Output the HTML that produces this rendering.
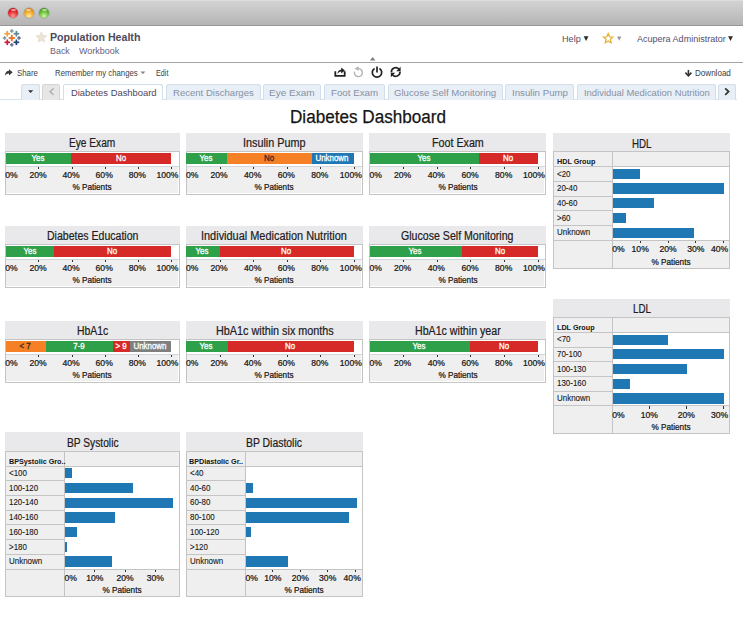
<!DOCTYPE html><html><head><meta charset="utf-8"><style>html,body{margin:0;padding:0;}body{width:743px;height:621px;overflow:hidden;position:relative;background:#fff;font-family:"Liberation Sans", sans-serif;}</style></head><body><div style="position:absolute;left:0.00px;top:0.00px;width:743.00px;height:25.00px;background:linear-gradient(#e4e4e4 0,#d2d2d2 1.5px,#c6c6c6 45%,#b4b4b4 100%);"></div><div style="position:absolute;left:0.00px;top:25.00px;width:743.00px;height:1.40px;background:#989898;"></div><div style="position:absolute;left:8.10px;top:7.8px;width:10.4px;height:10.4px;border-radius:50%;background:radial-gradient(circle at 50% 80%,#ff9a90 0,#e0262a 55%,#a01018 100%);box-shadow:0 0 0 0.7px rgba(110,110,110,0.35);"></div><div style="position:absolute;left:10.70px;top:8.7px;width:5.2px;height:2.8px;border-radius:50%;background:rgba(255,255,255,0.55);"></div><div style="position:absolute;left:23.50px;top:7.8px;width:10.4px;height:10.4px;border-radius:50%;background:radial-gradient(circle at 50% 80%,#ffe9a0 0,#f0a020 55%,#b06a10 100%);box-shadow:0 0 0 0.7px rgba(110,110,110,0.35);"></div><div style="position:absolute;left:26.10px;top:8.7px;width:5.2px;height:2.8px;border-radius:50%;background:rgba(255,255,255,0.55);"></div><div style="position:absolute;left:39.00px;top:7.8px;width:10.4px;height:10.4px;border-radius:50%;background:radial-gradient(circle at 50% 80%,#d0f8a0 0,#60b830 55%,#2a7a12 100%);box-shadow:0 0 0 0.7px rgba(110,110,110,0.35);"></div><div style="position:absolute;left:41.60px;top:8.7px;width:5.2px;height:2.8px;border-radius:50%;background:rgba(255,255,255,0.55);"></div><svg style="position:absolute;left:0;top:27px" width="26" height="24" viewBox="0 27 26 24"><rect x="8.70" y="37.05" width="6.2" height="1.9" fill="#e8762b"/><rect x="10.85" y="34.90" width="1.9" height="6.2" fill="#e8762b"/><rect x="4.50" y="32.85" width="5.6" height="1.7" fill="#eea23c"/><rect x="6.45" y="30.90" width="1.7" height="5.6" fill="#eea23c"/><rect x="13.60" y="32.85" width="5.6" height="1.7" fill="#5b879a"/><rect x="15.55" y="30.90" width="1.7" height="5.6" fill="#5b879a"/><rect x="4.50" y="41.45" width="5.6" height="1.7" fill="#c72035"/><rect x="6.45" y="39.50" width="1.7" height="5.6" fill="#c72035"/><rect x="13.60" y="41.45" width="5.6" height="1.7" fill="#1f447a"/><rect x="15.55" y="39.50" width="1.7" height="5.6" fill="#1f447a"/><rect x="10.00" y="30.30" width="3.6" height="1.4" fill="#7199a6"/><rect x="11.10" y="29.20" width="1.4" height="3.6" fill="#7199a6"/><rect x="2.80" y="37.30" width="3.6" height="1.4" fill="#7199a6"/><rect x="3.90" y="36.20" width="1.4" height="3.6" fill="#7199a6"/><rect x="17.20" y="37.30" width="3.6" height="1.4" fill="#5c6692"/><rect x="18.30" y="36.20" width="1.4" height="3.6" fill="#5c6692"/><rect x="10.00" y="44.10" width="3.6" height="1.4" fill="#6a6aa0"/><rect x="11.10" y="43.00" width="1.4" height="3.6" fill="#6a6aa0"/></svg><svg style="position:absolute;left:0;top:0" width="743" height="60"><path d="M41.35,32.00 L42.88,35.50 L46.68,35.87 L43.82,38.40 L44.64,42.13 L41.35,40.20 L38.06,42.13 L38.88,38.40 L36.02,35.87 L39.82,35.50Z" fill="#ebe5d5" stroke="#ddd5c2" stroke-width="0.6"/><path d="M608.20,33.60 L609.55,36.74 L612.96,37.05 L610.39,39.31 L611.14,42.65 L608.20,40.90 L605.26,42.65 L606.01,39.31 L603.44,37.05 L606.85,36.74Z" fill="none" stroke="#e2ae2c" stroke-width="1.2"/></svg><div style="position:absolute;left:49.90px;top:31.53px;font-size:10.8px;line-height:10.8px;color:#4d4a5c;font-weight:bold;white-space:nowrap;transform:scaleX(0.985);transform-origin:0 0;">Population Health</div><div style="position:absolute;left:49.70px;top:45.74px;font-size:9.6px;line-height:9.6px;color:#675f7e;font-weight:normal;white-space:nowrap;transform:scaleX(0.930);transform-origin:0 0;">Back</div><div style="position:absolute;left:78.50px;top:45.74px;font-size:9.6px;line-height:9.6px;color:#675f7e;font-weight:normal;white-space:nowrap;transform:scaleX(0.937);transform-origin:0 0;">Workbook</div><div style="position:absolute;left:561.70px;top:33.54px;font-size:9.6px;line-height:9.6px;color:#564f6c;font-weight:normal;white-space:nowrap;transform:scaleX(0.956);transform-origin:0 0;">Help</div><svg style="position:absolute;left:0;top:0;overflow:visible" width="1" height="1"><path d="M583.70 36.30 H588.50 L586.10 40.90Z" fill="#2a2a2a"/></svg><svg style="position:absolute;left:0;top:0;overflow:visible" width="1" height="1"><path d="M617.00 36.50 H621.40 L619.20 40.70Z" fill="#9a9a9a"/></svg><div style="position:absolute;left:636.50px;top:33.54px;font-size:9.6px;line-height:9.6px;color:#564f6c;font-weight:normal;white-space:nowrap;transform:scaleX(0.940);transform-origin:0 0;">Acupera Administrator</div><svg style="position:absolute;left:0;top:0;overflow:visible" width="1" height="1"><path d="M728.10 36.30 H732.90 L730.50 40.90Z" fill="#2a2a2a"/></svg><div style="position:absolute;left:0.00px;top:61.60px;width:743.00px;height:1.40px;background:#a4a4a4;"></div><svg style="position:absolute;left:0;top:0;overflow:visible" width="1" height="1"><path d="M369.9 60.5 L372.65 57.1 L375.4 60.5Z" fill="#7e7e7e"/></svg><svg style="position:absolute;left:0;top:0;overflow:visible" width="1" height="1"><path d="M4.8 76 C5 72.4 6.8 70.9 9 70.8 V69.2 L12.7 72.3 L9 75.4 V73.6 C7.4 73.6 5.9 74.4 4.8 76Z" fill="#3a3a3a"/></svg><div style="position:absolute;left:16.50px;top:68.78px;font-size:8.6px;line-height:8.6px;color:#3e3e3e;font-weight:normal;white-space:nowrap;transform:scaleX(0.915);transform-origin:0 0;">Share</div><div style="position:absolute;left:55.20px;top:68.78px;font-size:8.6px;line-height:8.6px;color:#3e3e3e;font-weight:normal;white-space:nowrap;transform:scaleX(0.907);transform-origin:0 0;">Remember my changes</div><svg style="position:absolute;left:0;top:0;overflow:visible" width="1" height="1"><path d="M140.50 71.40 H145.30 L142.90 74.20Z" fill="#888"/></svg><div style="position:absolute;left:156.30px;top:68.78px;font-size:8.6px;line-height:8.6px;color:#3e3e3e;font-weight:normal;white-space:nowrap;transform:scaleX(0.840);transform-origin:0 0;">Edit</div><div style="position:absolute;left:695.00px;top:68.78px;font-size:8.6px;line-height:8.6px;color:#3e3e3e;font-weight:normal;white-space:nowrap;transform:scaleX(0.938);transform-origin:0 0;">Download</div><svg style="position:absolute;left:0;top:0;overflow:visible" width="1" height="1"><path d="M688.4 70 V75" stroke="#333" stroke-width="1.6"/><path d="M685.4 72.6 L688.4 75.9 L691.4 72.6" fill="none" stroke="#333" stroke-width="1.6"/></svg><svg style="position:absolute;left:0;top:0;overflow:visible" width="1" height="1"><path d="M335.3 71.2 V75.9 H344.7 V71.2" fill="none" stroke="#222" stroke-width="1.8"/><path d="M337.4 74.2 C337.6 71.2 339.2 69.9 341.2 69.8 V67.4 L344.9 70.5 L341.2 73.6 V71.5 C339.6 71.5 338.4 72.4 337.4 74.2Z" fill="#222"/><path d="M358.05 68.62 A4.0 4.0 0 1 1 354.54 71.56" fill="none" stroke="#b4b4b4" stroke-width="1.4"/><path d="M354.6 68.6 L358.6 66.2 L358.6 71Z" fill="#b4b4b4"/><path d="M379.49 68.41 A4.7 4.7 0 1 1 374.51 68.41" fill="none" stroke="#222" stroke-width="1.7"/><path d="M377 66.6 V72.4" stroke="#222" stroke-width="1.7"/><path d="M391.42 72.37 A4.3 4.3 0 0 1 398.99 69.24" fill="none" stroke="#222" stroke-width="1.7"/><path d="M399.98 71.63 A4.3 4.3 0 0 1 392.41 74.76" fill="none" stroke="#222" stroke-width="1.7"/><path d="M400.6 66.8 V71.2 H396.2Z" fill="#222"/><path d="M390.8 77.2 V72.8 H395.2Z" fill="#222"/></svg><div style="position:absolute;left:0.00px;top:98.50px;width:736.50px;height:1.10px;background:#d6e2ee;"></div><div style="position:absolute;left:21.40px;top:84px;width:16.80px;height:14.6px;background:#e9eff7;border:1px solid #d2deea;border-bottom:none;border-radius:2.5px 2.5px 0 0;"></div><svg style="position:absolute;left:0;top:0;overflow:visible" width="1" height="1"><path d="M28.05 90.20 H33.25 L30.65 93.00Z" fill="#333"/></svg><div style="position:absolute;left:42.30px;top:84px;width:16.10px;height:14.6px;background:#e6e6e6;border:1px solid #d4d4d4;border-bottom:none;border-radius:2.5px 2.5px 0 0;"></div><svg style="position:absolute;left:0;top:0;overflow:visible" width="1" height="1"><path d="M53.6 88.6 L50 91.7 L53.6 94.8" fill="none" stroke="#a8a8a8" stroke-width="1.3"/></svg><div style="position:absolute;left:63.30px;top:84px;width:97.50px;height:14.6px;background:#ffffff;border:1px solid #d2deea;border-bottom:none;border-radius:2.5px 2.5px 0 0;"></div><div style="position:absolute;left:70.50px;top:87.64px;font-size:9.6px;line-height:9.6px;color:#4e4760;font-weight:normal;white-space:nowrap;transform:scaleX(0.978);transform-origin:0 0;">Diabetes Dashboard</div><div style="position:absolute;left:165.50px;top:84px;width:93.00px;height:14.6px;background:#e9eff7;border:1px solid #d2deea;border-bottom:none;border-radius:2.5px 2.5px 0 0;"></div><div style="position:absolute;left:172.50px;top:87.64px;font-size:9.6px;line-height:9.6px;color:#8791a3;font-weight:normal;white-space:nowrap;transform:scaleX(0.996);transform-origin:0 0;">Recent Discharges</div><div style="position:absolute;left:263.20px;top:84px;width:55.90px;height:14.6px;background:#e9eff7;border:1px solid #d2deea;border-bottom:none;border-radius:2.5px 2.5px 0 0;"></div><div style="position:absolute;left:269.40px;top:87.64px;font-size:9.6px;line-height:9.6px;color:#8791a3;font-weight:normal;white-space:nowrap;transform:scaleX(1.046);transform-origin:0 0;">Eye Exam</div><div style="position:absolute;left:323.80px;top:84px;width:59.70px;height:14.6px;background:#e9eff7;border:1px solid #d2deea;border-bottom:none;border-radius:2.5px 2.5px 0 0;"></div><div style="position:absolute;left:331.00px;top:87.64px;font-size:9.6px;line-height:9.6px;color:#8791a3;font-weight:normal;white-space:nowrap;transform:scaleX(1.016);transform-origin:0 0;">Foot Exam</div><div style="position:absolute;left:387.50px;top:84px;width:113.00px;height:14.6px;background:#e9eff7;border:1px solid #d2deea;border-bottom:none;border-radius:2.5px 2.5px 0 0;"></div><div style="position:absolute;left:394.00px;top:87.64px;font-size:9.6px;line-height:9.6px;color:#8791a3;font-weight:normal;white-space:nowrap;transform:scaleX(1.003);transform-origin:0 0;">Glucose Self Monitoring</div><div style="position:absolute;left:505.20px;top:84px;width:67.10px;height:14.6px;background:#e9eff7;border:1px solid #d2deea;border-bottom:none;border-radius:2.5px 2.5px 0 0;"></div><div style="position:absolute;left:511.90px;top:87.64px;font-size:9.6px;line-height:9.6px;color:#8791a3;font-weight:normal;white-space:nowrap;transform:scaleX(1.009);transform-origin:0 0;">Insulin Pump</div><div style="position:absolute;left:576.50px;top:84px;width:137.20px;height:14.6px;background:#e9eff7;border:1px solid #d2deea;border-bottom:none;border-radius:2.5px 2.5px 0 0;"></div><div style="position:absolute;left:583.90px;top:87.64px;font-size:9.6px;line-height:9.6px;color:#8791a3;font-weight:normal;white-space:nowrap;transform:scaleX(0.983);transform-origin:0 0;">Individual Medication Nutrition</div><div style="position:absolute;left:717.60px;top:84px;width:16.50px;height:14.6px;background:#e9eff7;border:1px solid #d2deea;border-bottom:none;border-radius:2.5px 2.5px 0 0;"></div><svg style="position:absolute;left:0;top:0;overflow:visible" width="1" height="1"><path d="M725.2 88.4 L728.6 91.6 L725.2 94.8" fill="none" stroke="#333" stroke-width="1.7"/></svg><div style="position:absolute;left:289.70px;top:106.87px;font-size:19.2px;line-height:19.2px;color:#141414;font-weight:normal;white-space:nowrap;transform:scaleX(0.892);transform-origin:0 0;-webkit-text-stroke:0.25px #141414;">Diabetes Dashboard</div><div style="position:absolute;left:5.00px;top:132.60px;width:174.60px;height:18.70px;background:#e9e9eb;"></div><div style="position:absolute;left:69.15px;top:137.42px;font-size:12px;line-height:12px;color:#241c1c;font-weight:normal;white-space:nowrap;transform:scaleX(0.846);transform-origin:0 0;-webkit-text-stroke:0.22px #241c1c;">Eye Exam</div><div style="position:absolute;left:5.00px;top:151.30px;width:172.60px;height:41.60px;background:#efefef;border:1px solid #c4c4c4;overflow:hidden;box-shadow:inset -1px -1px 0 #fff;"><div style="position:absolute;left:0;top:0;right:0;height:14px;background:#fff;border-bottom:1px solid #cfd6dc;"></div></div><div style="position:absolute;left:5.80px;top:153.20px;width:65.54px;height:10.90px;background:#2ea04a;"></div><div style="position:absolute;left:-262.03px;width:600px;text-align:center;top:154.18px;font-size:8.6px;line-height:8.6px;color:#fff;font-weight:normal;white-space:nowrap;transform:scaleX(0.920);transform-origin:50% 0;-webkit-text-stroke:0.3px #fff;">Yes</div><div style="position:absolute;left:71.34px;top:153.20px;width:99.96px;height:10.90px;background:#d62a28;"></div><div style="position:absolute;left:-179.28px;width:600px;text-align:center;top:154.18px;font-size:8.6px;line-height:8.6px;color:#fff;font-weight:normal;white-space:nowrap;transform:scaleX(0.920);transform-origin:50% 0;-webkit-text-stroke:0.3px #fff;">No</div><div style="position:absolute;left:5.30px;top:171.18px;font-size:8.6px;line-height:8.6px;color:#141414;font-weight:normal;white-space:nowrap;-webkit-text-stroke:0.22px #141414;">0%</div><div style="position:absolute;left:38.40px;top:167.10px;width:1.00px;height:2.40px;background:#333;"></div><div style="position:absolute;left:-262.00px;width:600px;text-align:center;top:171.18px;font-size:8.6px;line-height:8.6px;color:#141414;font-weight:normal;white-space:nowrap;-webkit-text-stroke:0.22px #141414;">20%</div><div style="position:absolute;left:71.50px;top:167.10px;width:1.00px;height:2.40px;background:#333;"></div><div style="position:absolute;left:-228.90px;width:600px;text-align:center;top:171.18px;font-size:8.6px;line-height:8.6px;color:#141414;font-weight:normal;white-space:nowrap;-webkit-text-stroke:0.22px #141414;">40%</div><div style="position:absolute;left:104.60px;top:167.10px;width:1.00px;height:2.40px;background:#333;"></div><div style="position:absolute;left:-195.80px;width:600px;text-align:center;top:171.18px;font-size:8.6px;line-height:8.6px;color:#141414;font-weight:normal;white-space:nowrap;-webkit-text-stroke:0.22px #141414;">60%</div><div style="position:absolute;left:137.70px;top:167.10px;width:1.00px;height:2.40px;background:#333;"></div><div style="position:absolute;left:-162.70px;width:600px;text-align:center;top:171.18px;font-size:8.6px;line-height:8.6px;color:#141414;font-weight:normal;white-space:nowrap;-webkit-text-stroke:0.22px #141414;">80%</div><div style="position:absolute;left:170.80px;top:167.10px;width:1.00px;height:2.40px;background:#333;"></div><div style="position:absolute;right:564.60px;text-align:right;top:171.18px;font-size:8.6px;line-height:8.6px;color:#141414;font-weight:normal;white-space:nowrap;-webkit-text-stroke:0.22px #141414;">100%</div><div style="position:absolute;left:-207.70px;width:600px;text-align:center;top:182.98px;font-size:8.6px;line-height:8.6px;color:#141414;font-weight:normal;white-space:nowrap;transform:scaleX(0.950);transform-origin:50% 0;-webkit-text-stroke:0.22px #141414;">% Patients</div><div style="position:absolute;left:185.70px;top:132.60px;width:177.30px;height:18.70px;background:#e9e9eb;"></div><div style="position:absolute;left:243.15px;top:137.42px;font-size:12px;line-height:12px;color:#241c1c;font-weight:normal;white-space:nowrap;transform:scaleX(0.900);transform-origin:0 0;-webkit-text-stroke:0.22px #241c1c;">Insulin Pump</div><div style="position:absolute;left:185.70px;top:151.30px;width:175.30px;height:41.60px;background:#efefef;border:1px solid #c4c4c4;overflow:hidden;box-shadow:inset -1px -1px 0 #fff;"><div style="position:absolute;left:0;top:0;right:0;height:14px;background:#fff;border-bottom:1px solid #cfd6dc;"></div></div><div style="position:absolute;left:186.40px;top:153.20px;width:40.82px;height:10.90px;background:#2ea04a;"></div><div style="position:absolute;left:-93.79px;width:600px;text-align:center;top:154.18px;font-size:8.6px;line-height:8.6px;color:#fff;font-weight:normal;white-space:nowrap;transform:scaleX(0.920);transform-origin:50% 0;-webkit-text-stroke:0.3px #fff;">Yes</div><div style="position:absolute;left:227.22px;top:153.20px;width:84.50px;height:10.90px;background:#f58025;"></div><div style="position:absolute;left:-31.12px;width:600px;text-align:center;top:154.18px;font-size:8.6px;line-height:8.6px;color:#3a2a20;font-weight:normal;white-space:nowrap;transform:scaleX(0.920);transform-origin:50% 0;-webkit-text-stroke:0.3px #3a2a20;">No</div><div style="position:absolute;left:311.73px;top:153.20px;width:42.67px;height:10.90px;background:#1f77b4;"></div><div style="position:absolute;left:32.46px;width:600px;text-align:center;top:154.18px;font-size:8.6px;line-height:8.6px;color:#fff;font-weight:normal;white-space:nowrap;transform:scaleX(0.920);transform-origin:50% 0;-webkit-text-stroke:0.3px #fff;">Unknown</div><div style="position:absolute;left:186.00px;top:171.18px;font-size:8.6px;line-height:8.6px;color:#141414;font-weight:normal;white-space:nowrap;-webkit-text-stroke:0.22px #141414;">0%</div><div style="position:absolute;left:219.50px;top:167.10px;width:1.00px;height:2.40px;background:#333;"></div><div style="position:absolute;left:-80.90px;width:600px;text-align:center;top:171.18px;font-size:8.6px;line-height:8.6px;color:#141414;font-weight:normal;white-space:nowrap;-webkit-text-stroke:0.22px #141414;">20%</div><div style="position:absolute;left:253.10px;top:167.10px;width:1.00px;height:2.40px;background:#333;"></div><div style="position:absolute;left:-47.30px;width:600px;text-align:center;top:171.18px;font-size:8.6px;line-height:8.6px;color:#141414;font-weight:normal;white-space:nowrap;-webkit-text-stroke:0.22px #141414;">40%</div><div style="position:absolute;left:286.70px;top:167.10px;width:1.00px;height:2.40px;background:#333;"></div><div style="position:absolute;left:-13.70px;width:600px;text-align:center;top:171.18px;font-size:8.6px;line-height:8.6px;color:#141414;font-weight:normal;white-space:nowrap;-webkit-text-stroke:0.22px #141414;">60%</div><div style="position:absolute;left:320.30px;top:167.10px;width:1.00px;height:2.40px;background:#333;"></div><div style="position:absolute;left:19.90px;width:600px;text-align:center;top:171.18px;font-size:8.6px;line-height:8.6px;color:#141414;font-weight:normal;white-space:nowrap;-webkit-text-stroke:0.22px #141414;">80%</div><div style="position:absolute;left:353.90px;top:167.10px;width:1.00px;height:2.40px;background:#333;"></div><div style="position:absolute;right:381.20px;text-align:right;top:171.18px;font-size:8.6px;line-height:8.6px;color:#141414;font-weight:normal;white-space:nowrap;-webkit-text-stroke:0.22px #141414;">100%</div><div style="position:absolute;left:-25.65px;width:600px;text-align:center;top:182.98px;font-size:8.6px;line-height:8.6px;color:#141414;font-weight:normal;white-space:nowrap;transform:scaleX(0.950);transform-origin:50% 0;-webkit-text-stroke:0.22px #141414;">% Patients</div><div style="position:absolute;left:369.20px;top:132.60px;width:177.00px;height:18.70px;background:#e9e9eb;"></div><div style="position:absolute;left:431.85px;top:137.42px;font-size:12px;line-height:12px;color:#241c1c;font-weight:normal;white-space:nowrap;transform:scaleX(0.892);transform-origin:0 0;-webkit-text-stroke:0.22px #241c1c;">Foot Exam</div><div style="position:absolute;left:369.20px;top:151.30px;width:175.00px;height:41.60px;background:#efefef;border:1px solid #c4c4c4;overflow:hidden;box-shadow:inset -1px -1px 0 #fff;"><div style="position:absolute;left:0;top:0;right:0;height:14px;background:#fff;border-bottom:1px solid #cfd6dc;"></div></div><div style="position:absolute;left:369.80px;top:153.20px;width:109.52px;height:10.90px;background:#2ea04a;"></div><div style="position:absolute;left:123.96px;width:600px;text-align:center;top:154.18px;font-size:8.6px;line-height:8.6px;color:#fff;font-weight:normal;white-space:nowrap;transform:scaleX(0.920);transform-origin:50% 0;-webkit-text-stroke:0.3px #fff;">Yes</div><div style="position:absolute;left:479.32px;top:153.20px;width:58.97px;height:10.90px;background:#d62a28;"></div><div style="position:absolute;left:208.21px;width:600px;text-align:center;top:154.18px;font-size:8.6px;line-height:8.6px;color:#fff;font-weight:normal;white-space:nowrap;transform:scaleX(0.920);transform-origin:50% 0;-webkit-text-stroke:0.3px #fff;">No</div><div style="position:absolute;left:369.50px;top:171.18px;font-size:8.6px;line-height:8.6px;color:#141414;font-weight:normal;white-space:nowrap;-webkit-text-stroke:0.22px #141414;">0%</div><div style="position:absolute;left:403.00px;top:167.10px;width:1.00px;height:2.40px;background:#333;"></div><div style="position:absolute;left:102.60px;width:600px;text-align:center;top:171.18px;font-size:8.6px;line-height:8.6px;color:#141414;font-weight:normal;white-space:nowrap;-webkit-text-stroke:0.22px #141414;">20%</div><div style="position:absolute;left:436.70px;top:167.10px;width:1.00px;height:2.40px;background:#333;"></div><div style="position:absolute;left:136.30px;width:600px;text-align:center;top:171.18px;font-size:8.6px;line-height:8.6px;color:#141414;font-weight:normal;white-space:nowrap;-webkit-text-stroke:0.22px #141414;">40%</div><div style="position:absolute;left:470.40px;top:167.10px;width:1.00px;height:2.40px;background:#333;"></div><div style="position:absolute;left:170.00px;width:600px;text-align:center;top:171.18px;font-size:8.6px;line-height:8.6px;color:#141414;font-weight:normal;white-space:nowrap;-webkit-text-stroke:0.22px #141414;">60%</div><div style="position:absolute;left:504.10px;top:167.10px;width:1.00px;height:2.40px;background:#333;"></div><div style="position:absolute;left:203.70px;width:600px;text-align:center;top:171.18px;font-size:8.6px;line-height:8.6px;color:#141414;font-weight:normal;white-space:nowrap;-webkit-text-stroke:0.22px #141414;">80%</div><div style="position:absolute;left:537.80px;top:167.10px;width:1.00px;height:2.40px;background:#333;"></div><div style="position:absolute;right:198.00px;text-align:right;top:171.18px;font-size:8.6px;line-height:8.6px;color:#141414;font-weight:normal;white-space:nowrap;-webkit-text-stroke:0.22px #141414;">100%</div><div style="position:absolute;left:157.70px;width:600px;text-align:center;top:182.98px;font-size:8.6px;line-height:8.6px;color:#141414;font-weight:normal;white-space:nowrap;transform:scaleX(0.950);transform-origin:50% 0;-webkit-text-stroke:0.22px #141414;">% Patients</div><div style="position:absolute;left:5.00px;top:225.60px;width:174.60px;height:18.70px;background:#e9e9eb;"></div><div style="position:absolute;left:46.65px;top:230.42px;font-size:12px;line-height:12px;color:#241c1c;font-weight:normal;white-space:nowrap;transform:scaleX(0.878);transform-origin:0 0;-webkit-text-stroke:0.22px #241c1c;">Diabetes Education</div><div style="position:absolute;left:5.00px;top:244.30px;width:172.60px;height:41.60px;background:#efefef;border:1px solid #c4c4c4;overflow:hidden;box-shadow:inset -1px -1px 0 #fff;"><div style="position:absolute;left:0;top:0;right:0;height:14px;background:#fff;border-bottom:1px solid #cfd6dc;"></div></div><div style="position:absolute;left:5.80px;top:246.20px;width:48.66px;height:10.90px;background:#2ea04a;"></div><div style="position:absolute;left:-270.47px;width:600px;text-align:center;top:247.18px;font-size:8.6px;line-height:8.6px;color:#fff;font-weight:normal;white-space:nowrap;transform:scaleX(0.920);transform-origin:50% 0;-webkit-text-stroke:0.3px #fff;">Yes</div><div style="position:absolute;left:54.46px;top:246.20px;width:116.84px;height:10.90px;background:#d62a28;"></div><div style="position:absolute;left:-187.72px;width:600px;text-align:center;top:247.18px;font-size:8.6px;line-height:8.6px;color:#fff;font-weight:normal;white-space:nowrap;transform:scaleX(0.920);transform-origin:50% 0;-webkit-text-stroke:0.3px #fff;">No</div><div style="position:absolute;left:5.30px;top:264.18px;font-size:8.6px;line-height:8.6px;color:#141414;font-weight:normal;white-space:nowrap;-webkit-text-stroke:0.22px #141414;">0%</div><div style="position:absolute;left:38.40px;top:260.10px;width:1.00px;height:2.40px;background:#333;"></div><div style="position:absolute;left:-262.00px;width:600px;text-align:center;top:264.18px;font-size:8.6px;line-height:8.6px;color:#141414;font-weight:normal;white-space:nowrap;-webkit-text-stroke:0.22px #141414;">20%</div><div style="position:absolute;left:71.50px;top:260.10px;width:1.00px;height:2.40px;background:#333;"></div><div style="position:absolute;left:-228.90px;width:600px;text-align:center;top:264.18px;font-size:8.6px;line-height:8.6px;color:#141414;font-weight:normal;white-space:nowrap;-webkit-text-stroke:0.22px #141414;">40%</div><div style="position:absolute;left:104.60px;top:260.10px;width:1.00px;height:2.40px;background:#333;"></div><div style="position:absolute;left:-195.80px;width:600px;text-align:center;top:264.18px;font-size:8.6px;line-height:8.6px;color:#141414;font-weight:normal;white-space:nowrap;-webkit-text-stroke:0.22px #141414;">60%</div><div style="position:absolute;left:137.70px;top:260.10px;width:1.00px;height:2.40px;background:#333;"></div><div style="position:absolute;left:-162.70px;width:600px;text-align:center;top:264.18px;font-size:8.6px;line-height:8.6px;color:#141414;font-weight:normal;white-space:nowrap;-webkit-text-stroke:0.22px #141414;">80%</div><div style="position:absolute;left:170.80px;top:260.10px;width:1.00px;height:2.40px;background:#333;"></div><div style="position:absolute;right:564.60px;text-align:right;top:264.18px;font-size:8.6px;line-height:8.6px;color:#141414;font-weight:normal;white-space:nowrap;-webkit-text-stroke:0.22px #141414;">100%</div><div style="position:absolute;left:-207.70px;width:600px;text-align:center;top:275.98px;font-size:8.6px;line-height:8.6px;color:#141414;font-weight:normal;white-space:nowrap;transform:scaleX(0.950);transform-origin:50% 0;-webkit-text-stroke:0.22px #141414;">% Patients</div><div style="position:absolute;left:185.70px;top:225.60px;width:177.30px;height:18.70px;background:#e9e9eb;"></div><div style="position:absolute;left:201.45px;top:230.42px;font-size:12px;line-height:12px;color:#241c1c;font-weight:normal;white-space:nowrap;transform:scaleX(0.911);transform-origin:0 0;-webkit-text-stroke:0.22px #241c1c;">Individual Medication Nutrition</div><div style="position:absolute;left:185.70px;top:244.30px;width:175.30px;height:41.60px;background:#efefef;border:1px solid #c4c4c4;overflow:hidden;box-shadow:inset -1px -1px 0 #fff;"><div style="position:absolute;left:0;top:0;right:0;height:14px;background:#fff;border-bottom:1px solid #cfd6dc;"></div></div><div style="position:absolute;left:186.40px;top:246.20px;width:33.26px;height:10.90px;background:#2ea04a;"></div><div style="position:absolute;left:-97.57px;width:600px;text-align:center;top:247.18px;font-size:8.6px;line-height:8.6px;color:#fff;font-weight:normal;white-space:nowrap;transform:scaleX(0.920);transform-origin:50% 0;-webkit-text-stroke:0.3px #fff;">Yes</div><div style="position:absolute;left:219.66px;top:246.20px;width:134.74px;height:10.90px;background:#d62a28;"></div><div style="position:absolute;left:-13.57px;width:600px;text-align:center;top:247.18px;font-size:8.6px;line-height:8.6px;color:#fff;font-weight:normal;white-space:nowrap;transform:scaleX(0.920);transform-origin:50% 0;-webkit-text-stroke:0.3px #fff;">No</div><div style="position:absolute;left:186.00px;top:264.18px;font-size:8.6px;line-height:8.6px;color:#141414;font-weight:normal;white-space:nowrap;-webkit-text-stroke:0.22px #141414;">0%</div><div style="position:absolute;left:219.50px;top:260.10px;width:1.00px;height:2.40px;background:#333;"></div><div style="position:absolute;left:-80.90px;width:600px;text-align:center;top:264.18px;font-size:8.6px;line-height:8.6px;color:#141414;font-weight:normal;white-space:nowrap;-webkit-text-stroke:0.22px #141414;">20%</div><div style="position:absolute;left:253.10px;top:260.10px;width:1.00px;height:2.40px;background:#333;"></div><div style="position:absolute;left:-47.30px;width:600px;text-align:center;top:264.18px;font-size:8.6px;line-height:8.6px;color:#141414;font-weight:normal;white-space:nowrap;-webkit-text-stroke:0.22px #141414;">40%</div><div style="position:absolute;left:286.70px;top:260.10px;width:1.00px;height:2.40px;background:#333;"></div><div style="position:absolute;left:-13.70px;width:600px;text-align:center;top:264.18px;font-size:8.6px;line-height:8.6px;color:#141414;font-weight:normal;white-space:nowrap;-webkit-text-stroke:0.22px #141414;">60%</div><div style="position:absolute;left:320.30px;top:260.10px;width:1.00px;height:2.40px;background:#333;"></div><div style="position:absolute;left:19.90px;width:600px;text-align:center;top:264.18px;font-size:8.6px;line-height:8.6px;color:#141414;font-weight:normal;white-space:nowrap;-webkit-text-stroke:0.22px #141414;">80%</div><div style="position:absolute;left:353.90px;top:260.10px;width:1.00px;height:2.40px;background:#333;"></div><div style="position:absolute;right:381.20px;text-align:right;top:264.18px;font-size:8.6px;line-height:8.6px;color:#141414;font-weight:normal;white-space:nowrap;-webkit-text-stroke:0.22px #141414;">100%</div><div style="position:absolute;left:-25.65px;width:600px;text-align:center;top:275.98px;font-size:8.6px;line-height:8.6px;color:#141414;font-weight:normal;white-space:nowrap;transform:scaleX(0.950);transform-origin:50% 0;-webkit-text-stroke:0.22px #141414;">% Patients</div><div style="position:absolute;left:369.20px;top:225.60px;width:177.00px;height:18.70px;background:#e9e9eb;"></div><div style="position:absolute;left:401.45px;top:230.42px;font-size:12px;line-height:12px;color:#241c1c;font-weight:normal;white-space:nowrap;transform:scaleX(0.883);transform-origin:0 0;-webkit-text-stroke:0.22px #241c1c;">Glucose Self Monitoring</div><div style="position:absolute;left:369.20px;top:244.30px;width:175.00px;height:41.60px;background:#efefef;border:1px solid #c4c4c4;overflow:hidden;box-shadow:inset -1px -1px 0 #fff;"><div style="position:absolute;left:0;top:0;right:0;height:14px;background:#fff;border-bottom:1px solid #cfd6dc;"></div></div><div style="position:absolute;left:369.80px;top:246.20px;width:92.51px;height:10.90px;background:#2ea04a;"></div><div style="position:absolute;left:115.45px;width:600px;text-align:center;top:247.18px;font-size:8.6px;line-height:8.6px;color:#fff;font-weight:normal;white-space:nowrap;transform:scaleX(0.920);transform-origin:50% 0;-webkit-text-stroke:0.3px #fff;">Yes</div><div style="position:absolute;left:462.31px;top:246.20px;width:75.99px;height:10.90px;background:#d62a28;"></div><div style="position:absolute;left:199.70px;width:600px;text-align:center;top:247.18px;font-size:8.6px;line-height:8.6px;color:#fff;font-weight:normal;white-space:nowrap;transform:scaleX(0.920);transform-origin:50% 0;-webkit-text-stroke:0.3px #fff;">No</div><div style="position:absolute;left:369.50px;top:264.18px;font-size:8.6px;line-height:8.6px;color:#141414;font-weight:normal;white-space:nowrap;-webkit-text-stroke:0.22px #141414;">0%</div><div style="position:absolute;left:403.00px;top:260.10px;width:1.00px;height:2.40px;background:#333;"></div><div style="position:absolute;left:102.60px;width:600px;text-align:center;top:264.18px;font-size:8.6px;line-height:8.6px;color:#141414;font-weight:normal;white-space:nowrap;-webkit-text-stroke:0.22px #141414;">20%</div><div style="position:absolute;left:436.70px;top:260.10px;width:1.00px;height:2.40px;background:#333;"></div><div style="position:absolute;left:136.30px;width:600px;text-align:center;top:264.18px;font-size:8.6px;line-height:8.6px;color:#141414;font-weight:normal;white-space:nowrap;-webkit-text-stroke:0.22px #141414;">40%</div><div style="position:absolute;left:470.40px;top:260.10px;width:1.00px;height:2.40px;background:#333;"></div><div style="position:absolute;left:170.00px;width:600px;text-align:center;top:264.18px;font-size:8.6px;line-height:8.6px;color:#141414;font-weight:normal;white-space:nowrap;-webkit-text-stroke:0.22px #141414;">60%</div><div style="position:absolute;left:504.10px;top:260.10px;width:1.00px;height:2.40px;background:#333;"></div><div style="position:absolute;left:203.70px;width:600px;text-align:center;top:264.18px;font-size:8.6px;line-height:8.6px;color:#141414;font-weight:normal;white-space:nowrap;-webkit-text-stroke:0.22px #141414;">80%</div><div style="position:absolute;left:537.80px;top:260.10px;width:1.00px;height:2.40px;background:#333;"></div><div style="position:absolute;right:198.00px;text-align:right;top:264.18px;font-size:8.6px;line-height:8.6px;color:#141414;font-weight:normal;white-space:nowrap;-webkit-text-stroke:0.22px #141414;">100%</div><div style="position:absolute;left:157.70px;width:600px;text-align:center;top:275.98px;font-size:8.6px;line-height:8.6px;color:#141414;font-weight:normal;white-space:nowrap;transform:scaleX(0.950);transform-origin:50% 0;-webkit-text-stroke:0.22px #141414;">% Patients</div><div style="position:absolute;left:5.00px;top:320.60px;width:174.60px;height:18.70px;background:#e9e9eb;"></div><div style="position:absolute;left:76.70px;top:325.42px;font-size:12px;line-height:12px;color:#241c1c;font-weight:normal;white-space:nowrap;transform:scaleX(0.867);transform-origin:0 0;-webkit-text-stroke:0.22px #241c1c;">HbA1c</div><div style="position:absolute;left:5.00px;top:339.30px;width:172.60px;height:41.60px;background:#efefef;border:1px solid #c4c4c4;overflow:hidden;box-shadow:inset -1px -1px 0 #fff;"><div style="position:absolute;left:0;top:0;right:0;height:14px;background:#fff;border-bottom:1px solid #cfd6dc;"></div></div><div style="position:absolute;left:5.80px;top:341.20px;width:40.55px;height:10.90px;background:#f58025;"></div><div style="position:absolute;left:-274.53px;width:600px;text-align:center;top:342.18px;font-size:8.6px;line-height:8.6px;color:#3a2a20;font-weight:normal;white-space:nowrap;transform:scaleX(0.920);transform-origin:50% 0;-webkit-text-stroke:0.3px #3a2a20;">&lt; 7</div><div style="position:absolute;left:46.35px;top:341.20px;width:66.20px;height:10.90px;background:#2ea04a;"></div><div style="position:absolute;left:-221.15px;width:600px;text-align:center;top:342.18px;font-size:8.6px;line-height:8.6px;color:#fff;font-weight:normal;white-space:nowrap;transform:scaleX(0.920);transform-origin:50% 0;-webkit-text-stroke:0.3px #fff;">7-9</div><div style="position:absolute;left:112.55px;top:341.20px;width:17.38px;height:10.90px;background:#d62a28;"></div><div style="position:absolute;left:-179.36px;width:600px;text-align:center;top:342.18px;font-size:8.6px;line-height:8.6px;color:#fff;font-weight:normal;white-space:nowrap;transform:scaleX(0.920);transform-origin:50% 0;-webkit-text-stroke:0.3px #fff;">&gt; 9</div><div style="position:absolute;left:129.93px;top:341.20px;width:41.21px;height:10.90px;background:#7f7f7f;"></div><div style="position:absolute;left:-150.07px;width:600px;text-align:center;top:342.18px;font-size:8.6px;line-height:8.6px;color:#fff;font-weight:normal;white-space:nowrap;transform:scaleX(0.920);transform-origin:50% 0;-webkit-text-stroke:0.3px #fff;">Unknown</div><div style="position:absolute;left:5.30px;top:359.18px;font-size:8.6px;line-height:8.6px;color:#141414;font-weight:normal;white-space:nowrap;-webkit-text-stroke:0.22px #141414;">0%</div><div style="position:absolute;left:38.40px;top:355.10px;width:1.00px;height:2.40px;background:#333;"></div><div style="position:absolute;left:-262.00px;width:600px;text-align:center;top:359.18px;font-size:8.6px;line-height:8.6px;color:#141414;font-weight:normal;white-space:nowrap;-webkit-text-stroke:0.22px #141414;">20%</div><div style="position:absolute;left:71.50px;top:355.10px;width:1.00px;height:2.40px;background:#333;"></div><div style="position:absolute;left:-228.90px;width:600px;text-align:center;top:359.18px;font-size:8.6px;line-height:8.6px;color:#141414;font-weight:normal;white-space:nowrap;-webkit-text-stroke:0.22px #141414;">40%</div><div style="position:absolute;left:104.60px;top:355.10px;width:1.00px;height:2.40px;background:#333;"></div><div style="position:absolute;left:-195.80px;width:600px;text-align:center;top:359.18px;font-size:8.6px;line-height:8.6px;color:#141414;font-weight:normal;white-space:nowrap;-webkit-text-stroke:0.22px #141414;">60%</div><div style="position:absolute;left:137.70px;top:355.10px;width:1.00px;height:2.40px;background:#333;"></div><div style="position:absolute;left:-162.70px;width:600px;text-align:center;top:359.18px;font-size:8.6px;line-height:8.6px;color:#141414;font-weight:normal;white-space:nowrap;-webkit-text-stroke:0.22px #141414;">80%</div><div style="position:absolute;left:170.80px;top:355.10px;width:1.00px;height:2.40px;background:#333;"></div><div style="position:absolute;right:564.60px;text-align:right;top:359.18px;font-size:8.6px;line-height:8.6px;color:#141414;font-weight:normal;white-space:nowrap;-webkit-text-stroke:0.22px #141414;">100%</div><div style="position:absolute;left:-207.70px;width:600px;text-align:center;top:370.98px;font-size:8.6px;line-height:8.6px;color:#141414;font-weight:normal;white-space:nowrap;transform:scaleX(0.950);transform-origin:50% 0;-webkit-text-stroke:0.22px #141414;">% Patients</div><div style="position:absolute;left:185.70px;top:320.60px;width:177.30px;height:18.70px;background:#e9e9eb;"></div><div style="position:absolute;left:215.50px;top:325.42px;font-size:12px;line-height:12px;color:#241c1c;font-weight:normal;white-space:nowrap;transform:scaleX(0.901);transform-origin:0 0;-webkit-text-stroke:0.22px #241c1c;">HbA1c within six months</div><div style="position:absolute;left:185.70px;top:339.30px;width:175.30px;height:41.60px;background:#efefef;border:1px solid #c4c4c4;overflow:hidden;box-shadow:inset -1px -1px 0 #fff;"><div style="position:absolute;left:0;top:0;right:0;height:14px;background:#fff;border-bottom:1px solid #cfd6dc;"></div></div><div style="position:absolute;left:186.40px;top:341.20px;width:41.33px;height:10.90px;background:#2ea04a;"></div><div style="position:absolute;left:-93.54px;width:600px;text-align:center;top:342.18px;font-size:8.6px;line-height:8.6px;color:#fff;font-weight:normal;white-space:nowrap;transform:scaleX(0.920);transform-origin:50% 0;-webkit-text-stroke:0.3px #fff;">Yes</div><div style="position:absolute;left:227.73px;top:341.20px;width:126.67px;height:10.90px;background:#d62a28;"></div><div style="position:absolute;left:-9.54px;width:600px;text-align:center;top:342.18px;font-size:8.6px;line-height:8.6px;color:#fff;font-weight:normal;white-space:nowrap;transform:scaleX(0.920);transform-origin:50% 0;-webkit-text-stroke:0.3px #fff;">No</div><div style="position:absolute;left:186.00px;top:359.18px;font-size:8.6px;line-height:8.6px;color:#141414;font-weight:normal;white-space:nowrap;-webkit-text-stroke:0.22px #141414;">0%</div><div style="position:absolute;left:219.50px;top:355.10px;width:1.00px;height:2.40px;background:#333;"></div><div style="position:absolute;left:-80.90px;width:600px;text-align:center;top:359.18px;font-size:8.6px;line-height:8.6px;color:#141414;font-weight:normal;white-space:nowrap;-webkit-text-stroke:0.22px #141414;">20%</div><div style="position:absolute;left:253.10px;top:355.10px;width:1.00px;height:2.40px;background:#333;"></div><div style="position:absolute;left:-47.30px;width:600px;text-align:center;top:359.18px;font-size:8.6px;line-height:8.6px;color:#141414;font-weight:normal;white-space:nowrap;-webkit-text-stroke:0.22px #141414;">40%</div><div style="position:absolute;left:286.70px;top:355.10px;width:1.00px;height:2.40px;background:#333;"></div><div style="position:absolute;left:-13.70px;width:600px;text-align:center;top:359.18px;font-size:8.6px;line-height:8.6px;color:#141414;font-weight:normal;white-space:nowrap;-webkit-text-stroke:0.22px #141414;">60%</div><div style="position:absolute;left:320.30px;top:355.10px;width:1.00px;height:2.40px;background:#333;"></div><div style="position:absolute;left:19.90px;width:600px;text-align:center;top:359.18px;font-size:8.6px;line-height:8.6px;color:#141414;font-weight:normal;white-space:nowrap;-webkit-text-stroke:0.22px #141414;">80%</div><div style="position:absolute;left:353.90px;top:355.10px;width:1.00px;height:2.40px;background:#333;"></div><div style="position:absolute;right:381.20px;text-align:right;top:359.18px;font-size:8.6px;line-height:8.6px;color:#141414;font-weight:normal;white-space:nowrap;-webkit-text-stroke:0.22px #141414;">100%</div><div style="position:absolute;left:-25.65px;width:600px;text-align:center;top:370.98px;font-size:8.6px;line-height:8.6px;color:#141414;font-weight:normal;white-space:nowrap;transform:scaleX(0.950);transform-origin:50% 0;-webkit-text-stroke:0.22px #141414;">% Patients</div><div style="position:absolute;left:369.20px;top:320.60px;width:177.00px;height:18.70px;background:#e9e9eb;"></div><div style="position:absolute;left:414.85px;top:325.42px;font-size:12px;line-height:12px;color:#241c1c;font-weight:normal;white-space:nowrap;transform:scaleX(0.886);transform-origin:0 0;-webkit-text-stroke:0.22px #241c1c;">HbA1c within year</div><div style="position:absolute;left:369.20px;top:339.30px;width:175.00px;height:41.60px;background:#efefef;border:1px solid #c4c4c4;overflow:hidden;box-shadow:inset -1px -1px 0 #fff;"><div style="position:absolute;left:0;top:0;right:0;height:14px;background:#fff;border-bottom:1px solid #cfd6dc;"></div></div><div style="position:absolute;left:369.80px;top:341.20px;width:100.26px;height:10.90px;background:#2ea04a;"></div><div style="position:absolute;left:119.33px;width:600px;text-align:center;top:342.18px;font-size:8.6px;line-height:8.6px;color:#fff;font-weight:normal;white-space:nowrap;transform:scaleX(0.920);transform-origin:50% 0;-webkit-text-stroke:0.3px #fff;">Yes</div><div style="position:absolute;left:470.06px;top:341.20px;width:68.24px;height:10.90px;background:#d62a28;"></div><div style="position:absolute;left:203.58px;width:600px;text-align:center;top:342.18px;font-size:8.6px;line-height:8.6px;color:#fff;font-weight:normal;white-space:nowrap;transform:scaleX(0.920);transform-origin:50% 0;-webkit-text-stroke:0.3px #fff;">No</div><div style="position:absolute;left:369.50px;top:359.18px;font-size:8.6px;line-height:8.6px;color:#141414;font-weight:normal;white-space:nowrap;-webkit-text-stroke:0.22px #141414;">0%</div><div style="position:absolute;left:403.00px;top:355.10px;width:1.00px;height:2.40px;background:#333;"></div><div style="position:absolute;left:102.60px;width:600px;text-align:center;top:359.18px;font-size:8.6px;line-height:8.6px;color:#141414;font-weight:normal;white-space:nowrap;-webkit-text-stroke:0.22px #141414;">20%</div><div style="position:absolute;left:436.70px;top:355.10px;width:1.00px;height:2.40px;background:#333;"></div><div style="position:absolute;left:136.30px;width:600px;text-align:center;top:359.18px;font-size:8.6px;line-height:8.6px;color:#141414;font-weight:normal;white-space:nowrap;-webkit-text-stroke:0.22px #141414;">40%</div><div style="position:absolute;left:470.40px;top:355.10px;width:1.00px;height:2.40px;background:#333;"></div><div style="position:absolute;left:170.00px;width:600px;text-align:center;top:359.18px;font-size:8.6px;line-height:8.6px;color:#141414;font-weight:normal;white-space:nowrap;-webkit-text-stroke:0.22px #141414;">60%</div><div style="position:absolute;left:504.10px;top:355.10px;width:1.00px;height:2.40px;background:#333;"></div><div style="position:absolute;left:203.70px;width:600px;text-align:center;top:359.18px;font-size:8.6px;line-height:8.6px;color:#141414;font-weight:normal;white-space:nowrap;-webkit-text-stroke:0.22px #141414;">80%</div><div style="position:absolute;left:537.80px;top:355.10px;width:1.00px;height:2.40px;background:#333;"></div><div style="position:absolute;right:198.00px;text-align:right;top:359.18px;font-size:8.6px;line-height:8.6px;color:#141414;font-weight:normal;white-space:nowrap;-webkit-text-stroke:0.22px #141414;">100%</div><div style="position:absolute;left:157.70px;width:600px;text-align:center;top:370.98px;font-size:8.6px;line-height:8.6px;color:#141414;font-weight:normal;white-space:nowrap;transform:scaleX(0.950);transform-origin:50% 0;-webkit-text-stroke:0.22px #141414;">% Patients</div><div style="position:absolute;left:553.40px;top:132.70px;width:177.00px;height:18.70px;background:#e9e9eb;"></div><div style="position:absolute;left:632.15px;top:137.52px;font-size:12px;line-height:12px;color:#241c1c;font-weight:normal;white-space:nowrap;transform:scaleX(0.812);transform-origin:0 0;-webkit-text-stroke:0.22px #241c1c;">HDL</div><div style="position:absolute;left:553.40px;top:151.30px;width:175.00px;height:115.30px;background:#efefef;border:1px solid #c4c4c4;overflow:hidden;"></div><div style="position:absolute;left:612.00px;top:166.60px;width:117.40px;height:73.50px;background:#fff;"></div><div style="position:absolute;left:553.40px;top:166.10px;width:177.00px;height:1.00px;background:#c4c4c4;"></div><div style="position:absolute;left:553.40px;top:180.80px;width:58.60px;height:1.00px;background:#c4c4c4;"></div><div style="position:absolute;left:553.40px;top:195.50px;width:58.60px;height:1.00px;background:#c4c4c4;"></div><div style="position:absolute;left:553.40px;top:210.20px;width:58.60px;height:1.00px;background:#c4c4c4;"></div><div style="position:absolute;left:553.40px;top:224.90px;width:58.60px;height:1.00px;background:#c4c4c4;"></div><div style="position:absolute;left:553.40px;top:239.60px;width:177.00px;height:1.00px;background:#c4c4c4;"></div><div style="position:absolute;left:611.50px;top:151.30px;width:1.00px;height:117.30px;background:#c4c4c4;"></div><div style="position:absolute;left:556.90px;top:158.22px;font-size:7.6px;line-height:7.6px;color:#141414;font-weight:bold;white-space:nowrap;transform:scaleX(0.950);transform-origin:0 0;">HDL Group</div><div style="position:absolute;left:557.40px;top:169.54px;font-size:8.4px;line-height:8.4px;color:#161616;font-weight:normal;white-space:nowrap;transform:scaleX(0.950);transform-origin:0 0;-webkit-text-stroke:0.1px #161616;">&lt;20</div><div style="position:absolute;left:612.50px;top:168.70px;width:27.24px;height:10.30px;background:#1f77b4;"></div><div style="position:absolute;left:557.40px;top:184.24px;font-size:8.4px;line-height:8.4px;color:#161616;font-weight:normal;white-space:nowrap;transform:scaleX(0.950);transform-origin:0 0;-webkit-text-stroke:0.1px #161616;">20-40</div><div style="position:absolute;left:612.50px;top:183.40px;width:111.20px;height:10.30px;background:#1f77b4;"></div><div style="position:absolute;left:557.40px;top:198.94px;font-size:8.4px;line-height:8.4px;color:#161616;font-weight:normal;white-space:nowrap;transform:scaleX(0.950);transform-origin:0 0;-webkit-text-stroke:0.1px #161616;">40-60</div><div style="position:absolute;left:612.50px;top:198.10px;width:41.70px;height:10.30px;background:#1f77b4;"></div><div style="position:absolute;left:557.40px;top:213.64px;font-size:8.4px;line-height:8.4px;color:#161616;font-weight:normal;white-space:nowrap;transform:scaleX(0.950);transform-origin:0 0;-webkit-text-stroke:0.1px #161616;">&gt;60</div><div style="position:absolute;left:612.50px;top:212.80px;width:13.07px;height:10.30px;background:#1f77b4;"></div><div style="position:absolute;left:557.40px;top:228.34px;font-size:8.4px;line-height:8.4px;color:#161616;font-weight:normal;white-space:nowrap;transform:scaleX(0.950);transform-origin:0 0;-webkit-text-stroke:0.1px #161616;">Unknown</div><div style="position:absolute;left:612.50px;top:227.50px;width:81.73px;height:10.30px;background:#1f77b4;"></div><div style="position:absolute;left:612.00px;top:240.10px;width:117.40px;height:28px;overflow:hidden;"><div style="position:absolute;left:0.30px;top:5.38px;font-size:8.6px;line-height:8.6px;color:#141414;font-weight:normal;white-space:nowrap;-webkit-text-stroke:0.22px #141414;">0%</div><div style="position:absolute;left:27.70px;top:0.60px;width:1.00px;height:2.40px;background:#333;"></div><div style="position:absolute;left:-271.80px;width:600px;text-align:center;top:5.38px;font-size:8.6px;line-height:8.6px;color:#141414;font-weight:normal;white-space:nowrap;-webkit-text-stroke:0.22px #141414;">10%</div><div style="position:absolute;left:55.50px;top:0.60px;width:1.00px;height:2.40px;background:#333;"></div><div style="position:absolute;left:-244.00px;width:600px;text-align:center;top:5.38px;font-size:8.6px;line-height:8.6px;color:#141414;font-weight:normal;white-space:nowrap;-webkit-text-stroke:0.22px #141414;">20%</div><div style="position:absolute;left:83.30px;top:0.60px;width:1.00px;height:2.40px;background:#333;"></div><div style="position:absolute;left:-216.20px;width:600px;text-align:center;top:5.38px;font-size:8.6px;line-height:8.6px;color:#141414;font-weight:normal;white-space:nowrap;-webkit-text-stroke:0.22px #141414;">30%</div><div style="position:absolute;left:111.10px;top:0.60px;width:1.00px;height:2.40px;background:#333;"></div><div style="position:absolute;right:1.2px;top:5.38px;font-size:8.6px;line-height:8.6px;color:#141414;white-space:nowrap;-webkit-text-stroke:0.22px #141414;">40%</div></div><div style="position:absolute;left:371.20px;width:600px;text-align:center;top:257.58px;font-size:8.6px;line-height:8.6px;color:#141414;font-weight:normal;white-space:nowrap;transform:scaleX(0.950);transform-origin:50% 0;-webkit-text-stroke:0.22px #141414;">% Patients</div><div style="position:absolute;left:553.40px;top:298.50px;width:177.00px;height:18.70px;background:#e9e9eb;"></div><div style="position:absolute;left:632.95px;top:303.32px;font-size:12px;line-height:12px;color:#241c1c;font-weight:normal;white-space:nowrap;transform:scaleX(0.815);transform-origin:0 0;-webkit-text-stroke:0.22px #241c1c;">LDL</div><div style="position:absolute;left:553.40px;top:317.10px;width:175.00px;height:115.30px;background:#efefef;border:1px solid #c4c4c4;overflow:hidden;"></div><div style="position:absolute;left:612.00px;top:332.40px;width:117.40px;height:73.50px;background:#fff;"></div><div style="position:absolute;left:553.40px;top:331.90px;width:177.00px;height:1.00px;background:#c4c4c4;"></div><div style="position:absolute;left:553.40px;top:346.60px;width:58.60px;height:1.00px;background:#c4c4c4;"></div><div style="position:absolute;left:553.40px;top:361.30px;width:58.60px;height:1.00px;background:#c4c4c4;"></div><div style="position:absolute;left:553.40px;top:376.00px;width:58.60px;height:1.00px;background:#c4c4c4;"></div><div style="position:absolute;left:553.40px;top:390.70px;width:58.60px;height:1.00px;background:#c4c4c4;"></div><div style="position:absolute;left:553.40px;top:405.40px;width:177.00px;height:1.00px;background:#c4c4c4;"></div><div style="position:absolute;left:611.50px;top:317.10px;width:1.00px;height:117.30px;background:#c4c4c4;"></div><div style="position:absolute;left:556.90px;top:324.02px;font-size:7.6px;line-height:7.6px;color:#141414;font-weight:bold;white-space:nowrap;transform:scaleX(0.950);transform-origin:0 0;">LDL Group</div><div style="position:absolute;left:557.40px;top:335.34px;font-size:8.4px;line-height:8.4px;color:#161616;font-weight:normal;white-space:nowrap;transform:scaleX(0.950);transform-origin:0 0;-webkit-text-stroke:0.1px #161616;">&lt;70</div><div style="position:absolute;left:612.50px;top:334.50px;width:55.13px;height:10.30px;background:#1f77b4;"></div><div style="position:absolute;left:557.40px;top:350.04px;font-size:8.4px;line-height:8.4px;color:#161616;font-weight:normal;white-space:nowrap;transform:scaleX(0.950);transform-origin:0 0;-webkit-text-stroke:0.1px #161616;">70-100</div><div style="position:absolute;left:612.50px;top:349.20px;width:111.00px;height:10.30px;background:#1f77b4;"></div><div style="position:absolute;left:557.40px;top:364.74px;font-size:8.4px;line-height:8.4px;color:#161616;font-weight:normal;white-space:nowrap;transform:scaleX(0.950);transform-origin:0 0;-webkit-text-stroke:0.1px #161616;">100-130</div><div style="position:absolute;left:612.50px;top:363.90px;width:74.37px;height:10.30px;background:#1f77b4;"></div><div style="position:absolute;left:557.40px;top:379.44px;font-size:8.4px;line-height:8.4px;color:#161616;font-weight:normal;white-space:nowrap;transform:scaleX(0.950);transform-origin:0 0;-webkit-text-stroke:0.1px #161616;">130-160</div><div style="position:absolute;left:612.50px;top:378.60px;width:17.39px;height:10.30px;background:#1f77b4;"></div><div style="position:absolute;left:557.40px;top:394.14px;font-size:8.4px;line-height:8.4px;color:#161616;font-weight:normal;white-space:nowrap;transform:scaleX(0.950);transform-origin:0 0;-webkit-text-stroke:0.1px #161616;">Unknown</div><div style="position:absolute;left:612.50px;top:393.30px;width:111.00px;height:10.30px;background:#1f77b4;"></div><div style="position:absolute;left:612.00px;top:405.90px;width:117.40px;height:28px;overflow:hidden;"><div style="position:absolute;left:0.30px;top:5.38px;font-size:8.6px;line-height:8.6px;color:#141414;font-weight:normal;white-space:nowrap;-webkit-text-stroke:0.22px #141414;">0%</div><div style="position:absolute;left:36.90px;top:0.60px;width:1.00px;height:2.40px;background:#333;"></div><div style="position:absolute;left:-262.60px;width:600px;text-align:center;top:5.38px;font-size:8.6px;line-height:8.6px;color:#141414;font-weight:normal;white-space:nowrap;-webkit-text-stroke:0.22px #141414;">10%</div><div style="position:absolute;left:73.90px;top:0.60px;width:1.00px;height:2.40px;background:#333;"></div><div style="position:absolute;left:-225.60px;width:600px;text-align:center;top:5.38px;font-size:8.6px;line-height:8.6px;color:#141414;font-weight:normal;white-space:nowrap;-webkit-text-stroke:0.22px #141414;">20%</div><div style="position:absolute;left:110.90px;top:0.60px;width:1.00px;height:2.40px;background:#333;"></div><div style="position:absolute;right:1.2px;top:5.38px;font-size:8.6px;line-height:8.6px;color:#141414;white-space:nowrap;-webkit-text-stroke:0.22px #141414;">30%</div></div><div style="position:absolute;left:371.20px;width:600px;text-align:center;top:423.38px;font-size:8.6px;line-height:8.6px;color:#141414;font-weight:normal;white-space:nowrap;transform:scaleX(0.950);transform-origin:50% 0;-webkit-text-stroke:0.22px #141414;">% Patients</div><div style="position:absolute;left:5.20px;top:432.20px;width:174.40px;height:18.70px;background:#e9e9eb;"></div><div style="position:absolute;left:66.65px;top:437.02px;font-size:12px;line-height:12px;color:#241c1c;font-weight:normal;white-space:nowrap;transform:scaleX(0.852);transform-origin:0 0;-webkit-text-stroke:0.22px #241c1c;">BP Systolic</div><div style="position:absolute;left:5.20px;top:450.80px;width:172.40px;height:144.70px;background:#efefef;border:1px solid #c4c4c4;overflow:hidden;"></div><div style="position:absolute;left:64.30px;top:466.10px;width:114.30px;height:102.90px;background:#fff;"></div><div style="position:absolute;left:5.20px;top:465.60px;width:174.40px;height:1.00px;background:#c4c4c4;"></div><div style="position:absolute;left:5.20px;top:480.30px;width:59.10px;height:1.00px;background:#c4c4c4;"></div><div style="position:absolute;left:5.20px;top:495.00px;width:59.10px;height:1.00px;background:#c4c4c4;"></div><div style="position:absolute;left:5.20px;top:509.70px;width:59.10px;height:1.00px;background:#c4c4c4;"></div><div style="position:absolute;left:5.20px;top:524.40px;width:59.10px;height:1.00px;background:#c4c4c4;"></div><div style="position:absolute;left:5.20px;top:539.10px;width:59.10px;height:1.00px;background:#c4c4c4;"></div><div style="position:absolute;left:5.20px;top:553.80px;width:59.10px;height:1.00px;background:#c4c4c4;"></div><div style="position:absolute;left:5.20px;top:568.50px;width:174.40px;height:1.00px;background:#c4c4c4;"></div><div style="position:absolute;left:63.80px;top:450.80px;width:1.00px;height:146.70px;background:#c4c4c4;"></div><div style="position:absolute;left:8.70px;top:457.72px;font-size:7.6px;line-height:7.6px;color:#141414;font-weight:bold;white-space:nowrap;transform:scaleX(0.950);transform-origin:0 0;">BPSystolic Gro..</div><div style="position:absolute;left:9.20px;top:469.04px;font-size:8.4px;line-height:8.4px;color:#161616;font-weight:normal;white-space:nowrap;transform:scaleX(0.950);transform-origin:0 0;-webkit-text-stroke:0.1px #161616;">&lt;100</div><div style="position:absolute;left:64.80px;top:468.20px;width:7.27px;height:10.30px;background:#1f77b4;"></div><div style="position:absolute;left:9.20px;top:483.74px;font-size:8.4px;line-height:8.4px;color:#161616;font-weight:normal;white-space:nowrap;transform:scaleX(0.950);transform-origin:0 0;-webkit-text-stroke:0.1px #161616;">100-120</div><div style="position:absolute;left:64.80px;top:482.90px;width:68.17px;height:10.30px;background:#1f77b4;"></div><div style="position:absolute;left:9.20px;top:498.44px;font-size:8.4px;line-height:8.4px;color:#161616;font-weight:normal;white-space:nowrap;transform:scaleX(0.950);transform-origin:0 0;-webkit-text-stroke:0.1px #161616;">120-140</div><div style="position:absolute;left:64.80px;top:497.60px;width:108.47px;height:10.30px;background:#1f77b4;"></div><div style="position:absolute;left:9.20px;top:513.14px;font-size:8.4px;line-height:8.4px;color:#161616;font-weight:normal;white-space:nowrap;transform:scaleX(0.950);transform-origin:0 0;-webkit-text-stroke:0.1px #161616;">140-160</div><div style="position:absolute;left:64.80px;top:512.30px;width:49.99px;height:10.30px;background:#1f77b4;"></div><div style="position:absolute;left:9.20px;top:527.84px;font-size:8.4px;line-height:8.4px;color:#161616;font-weight:normal;white-space:nowrap;transform:scaleX(0.950);transform-origin:0 0;-webkit-text-stroke:0.1px #161616;">160-180</div><div style="position:absolute;left:64.80px;top:527.00px;width:11.82px;height:10.30px;background:#1f77b4;"></div><div style="position:absolute;left:9.20px;top:542.54px;font-size:8.4px;line-height:8.4px;color:#161616;font-weight:normal;white-space:nowrap;transform:scaleX(0.950);transform-origin:0 0;-webkit-text-stroke:0.1px #161616;">&gt;180</div><div style="position:absolute;left:64.80px;top:541.70px;width:2.42px;height:10.30px;background:#1f77b4;"></div><div style="position:absolute;left:9.20px;top:557.24px;font-size:8.4px;line-height:8.4px;color:#161616;font-weight:normal;white-space:nowrap;transform:scaleX(0.950);transform-origin:0 0;-webkit-text-stroke:0.1px #161616;">Unknown</div><div style="position:absolute;left:64.80px;top:556.40px;width:46.96px;height:10.30px;background:#1f77b4;"></div><div style="position:absolute;left:64.30px;top:569.00px;width:114.30px;height:28px;overflow:hidden;"><div style="position:absolute;left:0.30px;top:5.38px;font-size:8.6px;line-height:8.6px;color:#141414;font-weight:normal;white-space:nowrap;-webkit-text-stroke:0.22px #141414;">0%</div><div style="position:absolute;left:30.00px;top:0.60px;width:1.00px;height:2.40px;background:#333;"></div><div style="position:absolute;left:-269.50px;width:600px;text-align:center;top:5.38px;font-size:8.6px;line-height:8.6px;color:#141414;font-weight:normal;white-space:nowrap;-webkit-text-stroke:0.22px #141414;">10%</div><div style="position:absolute;left:60.30px;top:0.60px;width:1.00px;height:2.40px;background:#333;"></div><div style="position:absolute;left:-239.20px;width:600px;text-align:center;top:5.38px;font-size:8.6px;line-height:8.6px;color:#141414;font-weight:normal;white-space:nowrap;-webkit-text-stroke:0.22px #141414;">20%</div><div style="position:absolute;left:90.60px;top:0.60px;width:1.00px;height:2.40px;background:#333;"></div><div style="position:absolute;left:-208.90px;width:600px;text-align:center;top:5.38px;font-size:8.6px;line-height:8.6px;color:#141414;font-weight:normal;white-space:nowrap;-webkit-text-stroke:0.22px #141414;">30%</div></div><div style="position:absolute;left:-178.05px;width:600px;text-align:center;top:586.48px;font-size:8.6px;line-height:8.6px;color:#141414;font-weight:normal;white-space:nowrap;transform:scaleX(0.950);transform-origin:50% 0;-webkit-text-stroke:0.22px #141414;">% Patients</div><div style="position:absolute;left:185.80px;top:432.20px;width:177.20px;height:18.70px;background:#e9e9eb;"></div><div style="position:absolute;left:246.45px;top:437.02px;font-size:12px;line-height:12px;color:#241c1c;font-weight:normal;white-space:nowrap;transform:scaleX(0.867);transform-origin:0 0;-webkit-text-stroke:0.22px #241c1c;">BP Diastolic</div><div style="position:absolute;left:185.80px;top:450.80px;width:175.20px;height:144.70px;background:#efefef;border:1px solid #c4c4c4;overflow:hidden;"></div><div style="position:absolute;left:245.20px;top:466.10px;width:116.80px;height:102.90px;background:#fff;"></div><div style="position:absolute;left:185.80px;top:465.60px;width:177.20px;height:1.00px;background:#c4c4c4;"></div><div style="position:absolute;left:185.80px;top:480.30px;width:59.40px;height:1.00px;background:#c4c4c4;"></div><div style="position:absolute;left:185.80px;top:495.00px;width:59.40px;height:1.00px;background:#c4c4c4;"></div><div style="position:absolute;left:185.80px;top:509.70px;width:59.40px;height:1.00px;background:#c4c4c4;"></div><div style="position:absolute;left:185.80px;top:524.40px;width:59.40px;height:1.00px;background:#c4c4c4;"></div><div style="position:absolute;left:185.80px;top:539.10px;width:59.40px;height:1.00px;background:#c4c4c4;"></div><div style="position:absolute;left:185.80px;top:553.80px;width:59.40px;height:1.00px;background:#c4c4c4;"></div><div style="position:absolute;left:185.80px;top:568.50px;width:177.20px;height:1.00px;background:#c4c4c4;"></div><div style="position:absolute;left:244.70px;top:450.80px;width:1.00px;height:146.70px;background:#c4c4c4;"></div><div style="position:absolute;left:189.30px;top:457.72px;font-size:7.6px;line-height:7.6px;color:#141414;font-weight:bold;white-space:nowrap;transform:scaleX(0.950);transform-origin:0 0;">BPDiastolic Gr..</div><div style="position:absolute;left:189.80px;top:469.04px;font-size:8.4px;line-height:8.4px;color:#161616;font-weight:normal;white-space:nowrap;transform:scaleX(0.950);transform-origin:0 0;-webkit-text-stroke:0.1px #161616;">&lt;40</div><div style="position:absolute;left:189.80px;top:483.74px;font-size:8.4px;line-height:8.4px;color:#161616;font-weight:normal;white-space:nowrap;transform:scaleX(0.950);transform-origin:0 0;-webkit-text-stroke:0.1px #161616;">40-60</div><div style="position:absolute;left:245.70px;top:482.90px;width:6.85px;height:10.30px;background:#1f77b4;"></div><div style="position:absolute;left:189.80px;top:498.44px;font-size:8.4px;line-height:8.4px;color:#161616;font-weight:normal;white-space:nowrap;transform:scaleX(0.950);transform-origin:0 0;-webkit-text-stroke:0.1px #161616;">60-80</div><div style="position:absolute;left:245.70px;top:497.60px;width:110.97px;height:10.30px;background:#1f77b4;"></div><div style="position:absolute;left:189.80px;top:513.14px;font-size:8.4px;line-height:8.4px;color:#161616;font-weight:normal;white-space:nowrap;transform:scaleX(0.950);transform-origin:0 0;-webkit-text-stroke:0.1px #161616;">80-100</div><div style="position:absolute;left:245.70px;top:512.30px;width:103.02px;height:10.30px;background:#1f77b4;"></div><div style="position:absolute;left:189.80px;top:527.84px;font-size:8.4px;line-height:8.4px;color:#161616;font-weight:normal;white-space:nowrap;transform:scaleX(0.950);transform-origin:0 0;-webkit-text-stroke:0.1px #161616;">100-120</div><div style="position:absolute;left:245.70px;top:527.00px;width:5.48px;height:10.30px;background:#1f77b4;"></div><div style="position:absolute;left:189.80px;top:542.54px;font-size:8.4px;line-height:8.4px;color:#161616;font-weight:normal;white-space:nowrap;transform:scaleX(0.950);transform-origin:0 0;-webkit-text-stroke:0.1px #161616;">&gt;120</div><div style="position:absolute;left:189.80px;top:557.24px;font-size:8.4px;line-height:8.4px;color:#161616;font-weight:normal;white-space:nowrap;transform:scaleX(0.950);transform-origin:0 0;-webkit-text-stroke:0.1px #161616;">Unknown</div><div style="position:absolute;left:245.70px;top:556.40px;width:42.47px;height:10.30px;background:#1f77b4;"></div><div style="position:absolute;left:245.20px;top:569.00px;width:116.80px;height:28px;overflow:hidden;"><div style="position:absolute;left:0.30px;top:5.38px;font-size:8.6px;line-height:8.6px;color:#141414;font-weight:normal;white-space:nowrap;-webkit-text-stroke:0.22px #141414;">0%</div><div style="position:absolute;left:27.20px;top:0.60px;width:1.00px;height:2.40px;background:#333;"></div><div style="position:absolute;left:-272.30px;width:600px;text-align:center;top:5.38px;font-size:8.6px;line-height:8.6px;color:#141414;font-weight:normal;white-space:nowrap;-webkit-text-stroke:0.22px #141414;">10%</div><div style="position:absolute;left:54.60px;top:0.60px;width:1.00px;height:2.40px;background:#333;"></div><div style="position:absolute;left:-244.90px;width:600px;text-align:center;top:5.38px;font-size:8.6px;line-height:8.6px;color:#141414;font-weight:normal;white-space:nowrap;-webkit-text-stroke:0.22px #141414;">20%</div><div style="position:absolute;left:82.00px;top:0.60px;width:1.00px;height:2.40px;background:#333;"></div><div style="position:absolute;left:-217.50px;width:600px;text-align:center;top:5.38px;font-size:8.6px;line-height:8.6px;color:#141414;font-weight:normal;white-space:nowrap;-webkit-text-stroke:0.22px #141414;">30%</div><div style="position:absolute;left:109.40px;top:0.60px;width:1.00px;height:2.40px;background:#333;"></div><div style="position:absolute;right:1.2px;top:5.38px;font-size:8.6px;line-height:8.6px;color:#141414;white-space:nowrap;-webkit-text-stroke:0.22px #141414;">40%</div></div><div style="position:absolute;left:4.10px;width:600px;text-align:center;top:586.48px;font-size:8.6px;line-height:8.6px;color:#141414;font-weight:normal;white-space:nowrap;transform:scaleX(0.950);transform-origin:50% 0;-webkit-text-stroke:0.22px #141414;">% Patients</div></body></html>
